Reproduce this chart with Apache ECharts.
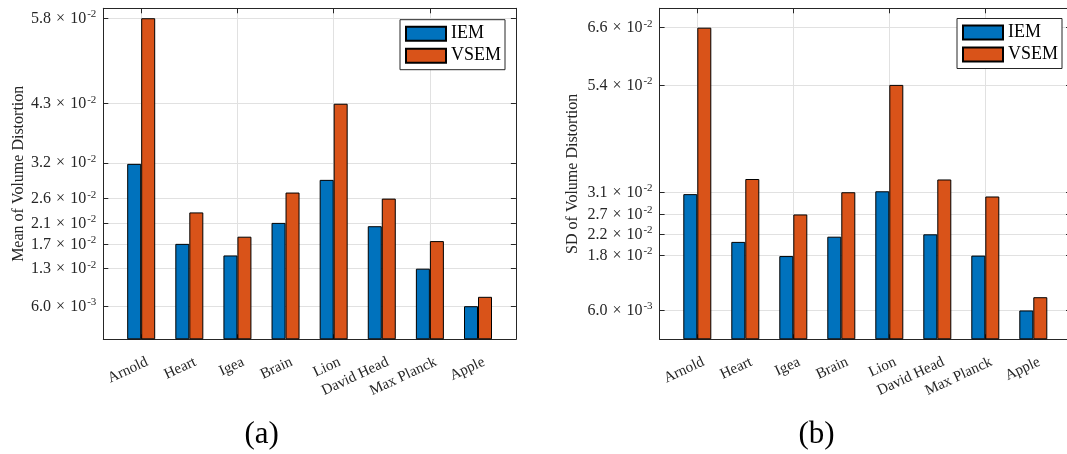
<!DOCTYPE html>
<html><head><meta charset="utf-8">
<script src="https://cdn.jsdelivr.net/npm/echarts@6/dist/echarts.min.js"></script>
<style>html,body{margin:0;padding:0;background:#fff}#c{width:1067px;height:454px}</style>
</head><body><div id="c"></div>
<script>
// ---------- data ----------
const categories = ['Arnold', 'Heart', 'Igea', 'Brain', 'Lion', 'David Head', 'Max Planck', 'Apple'];
const seriesNames = ['IEM', 'VSEM'];

const meanIEM  = [0.0318, 0.0173, 0.0152, 0.0211, 0.0289, 0.0205, 0.0128, 0.0060];
const meanVSEM = [0.0582, 0.0230, 0.0186, 0.0266, 0.0427, 0.0255, 0.0178, 0.0077];

const sdIEM  = [0.0307, 0.0206, 0.0176, 0.0217, 0.0313, 0.0222, 0.0177, 0.0061];
const sdVSEM = [0.0659, 0.0339, 0.0264, 0.0311, 0.0538, 0.0338, 0.0302, 0.0089];

const meanTickValues = [0.0060, 0.0128, 0.0173, 0.0211, 0.0255, 0.0320, 0.0427, 0.0582];
const meanTickMant   = ['6.0', '1.3', '1.7', '2.1', '2.6', '3.2', '4.3', '5.8'];
const meanTickExp    = ['-3', '-2', '-2', '-2', '-2', '-2', '-2', '-2'];

const sdTickValues = [0.0061, 0.0177, 0.0222, 0.0264, 0.0311, 0.0538, 0.0659];
const sdTickMant   = ['6.0', '1.8', '2.2', '2.7', '3.1', '5.4', '6.6'];
const sdTickExp    = ['-3', '-2', '-2', '-2', '-2', '-2', '-2'];

const meanAxisMax = 0.06;
const sdAxisMax = 0.07;
const yTitles = ['Mean of Volume Distortion', 'SD of Volume Distortion'];
const subCaptions = ['(a)', '(b)'];

// ---------- style ----------
const FONT = 'Liberation Serif';
const AXC = '#262626';
const GRIDC = '#e1e1e1';
const COLORS = ['#0072BD', '#D95319'];

function makeFormatter(vals, mant, exp) {
  return function (v) {
    let best = 0, bd = Infinity;
    for (let i = 0; i < vals.length; i++) { const d = Math.abs(vals[i] - v); if (d < bd) { bd = d; best = i; } }
    return '{m|' + mant[best] + '}{x|\u00d7}{m|10}{s|' + exp[best] + '}';
  };
}
const richLabel = {
  m: { fontFamily: FONT, fontSize: 16, color: AXC, verticalAlign: 'bottom', lineHeight: 17 },
  x: { fontFamily: FONT, fontSize: 16, color: AXC, verticalAlign: 'bottom', lineHeight: 17, padding: [0, 5, 0, 5] },
  s: { fontFamily: FONT, fontSize: 11, color: AXC, verticalAlign: 'bottom', lineHeight: 12, padding: [0, 0, 7, 1] }
};

function panel(frameLeft, dataLeft, dataWidth, top, height, maxV, tickVals, mant, exp, title, nameGap, iem, vsem, gi) {
  const frameWidth = (dataLeft - frameLeft) * 2 + dataWidth;
  const grids = [
    { left: frameLeft, top: top, width: frameWidth, height: height, outerBoundsMode: 'none', containLabel: false },
    { left: dataLeft, top: top, width: dataWidth, height: height, outerBoundsMode: 'none', containLabel: false },
    // label grid: same as data grid, nudged right so rotated labels sit like the reference
    { left: dataLeft + 6, top: top, width: dataWidth, height: height, outerBoundsMode: 'none', containLabel: false }
  ];
  const lineOnly = { show: true, onZero: false, lineStyle: { color: AXC, width: 1 } };
  const noLine = { show: false, onZero: false };
  const xAxes = [
    { type: 'value', gridIndex: gi, min: 0, max: 1, position: 'bottom', axisLine: lineOnly, axisTick: { show: false }, axisLabel: { show: false }, splitLine: { show: false } },
    { type: 'value', gridIndex: gi, min: 0, max: 1, position: 'top', axisLine: lineOnly, axisTick: { show: false }, axisLabel: { show: false }, splitLine: { show: false } },
    { type: 'category', gridIndex: gi + 1, data: categories, boundaryGap: false, position: 'bottom',
      axisLine: noLine,
      axisTick: { show: true, inside: true, length: 5, lineStyle: { color: AXC } },
      axisLabel: { show: false },
      splitLine: { show: true, lineStyle: { color: GRIDC, width: 1 } } },
    { type: 'category', gridIndex: gi + 1, data: categories, boundaryGap: false, position: 'top',
      axisLine: noLine,
      axisTick: { show: true, inside: true, length: 5, lineStyle: { color: AXC } },
      axisLabel: { show: false }, splitLine: { show: false } },
    { type: 'category', gridIndex: gi + 2, data: categories, boundaryGap: false, position: 'bottom',
      axisLine: noLine, axisTick: { show: false }, splitLine: { show: false },
      axisLabel: { rotate: 25, fontFamily: FONT, fontSize: 15, color: AXC, margin: 22, interval: 0 } }
  ];
  const yAxes = [
    { type: 'value', gridIndex: gi, min: 0, max: maxV, position: 'left',
      name: title, nameLocation: 'middle', nameRotate: 90, nameGap: nameGap,
      nameTextStyle: { fontFamily: FONT, fontSize: 16, color: AXC },
      axisLine: lineOnly,
      axisTick: { show: true, inside: true, length: 5, customValues: tickVals, lineStyle: { color: AXC } },
      axisLabel: { customValues: tickVals, margin: 7, formatter: makeFormatter(tickVals, mant, exp), rich: richLabel },
      splitLine: { show: true, lineStyle: { color: GRIDC, width: 1 } } },
    { type: 'value', gridIndex: gi, min: 0, max: maxV, position: 'right',
      axisLine: lineOnly,
      axisTick: { show: true, inside: true, length: 5, customValues: tickVals, lineStyle: { color: AXC } },
      axisLabel: { show: false }, splitLine: { show: false } },
    { type: 'value', gridIndex: gi + 1, min: 0, max: maxV, show: false, splitLine: { show: false } },
    { type: 'value', gridIndex: gi + 2, min: 0, max: maxV, show: false, splitLine: { show: false } }
  ];
  return { grids, xAxes, yAxes, iem, vsem };
}

const P1 = panel(103.3, 141.2, 336.8, 8.3, 331, meanAxisMax, meanTickValues, meanTickMant, meanTickExp, yTitles[0], 77, meanIEM, meanVSEM, 0);
const P2 = panel(659.6, 697.3, 336, 8.3, 331, sdAxisMax, sdTickValues, sdTickMant, sdTickExp, yTitles[1], 79, sdIEM, sdVSEM, 3);

function bars(name, data, xi, yi, color) {
  return { type: 'bar', name: name, data: data, xAxisIndex: xi, yAxisIndex: yi, barWidth: 14, barGap: '0%', clip: false,
    itemStyle: { color: color, borderColor: '#000', borderWidth: 1 } };
}

const legendBase = {
  data: seriesNames, orient: 'vertical', icon: 'rect', itemWidth: 40, itemHeight: 14, itemGap: 4,
  padding: [5, 4, 5, 5], backgroundColor: '#fff', borderColor: AXC, borderWidth: 1, borderRadius: 0,
  textStyle: { fontFamily: FONT, fontSize: 18, color: '#000' }, selectedMode: false
};

const option = {
  animation: false,
  backgroundColor: '#fff',
  color: COLORS,
  grid: [...P1.grids, ...P2.grids],
  xAxis: [...P1.xAxes, ...P2.xAxes],
  yAxis: [...P1.yAxes, ...P2.yAxes],
  legend: [
    Object.assign({}, legendBase, { left: 400, top: 19.7 }),
    Object.assign({}, legendBase, { left: 957, top: 18.5 })
  ],
  series: [
    bars(seriesNames[0], P1.iem, 2, 2, COLORS[0]),
    bars(seriesNames[1], P1.vsem, 2, 2, COLORS[1]),
    bars(seriesNames[0], P2.iem, 7, 6, COLORS[0]),
    bars(seriesNames[1], P2.vsem, 7, 6, COLORS[1])
  ],
  graphic: [
    { type: 'text', x: 261.7, y: 435, style: { text: subCaptions[0], font: '31px "Liberation Serif"', fill: '#000', textAlign: 'center', textVerticalAlign: 'middle' } },
    { type: 'text', x: 816.5, y: 435, style: { text: subCaptions[1], font: '31px "Liberation Serif"', fill: '#000', textAlign: 'center', textVerticalAlign: 'middle' } }
  ]
};

const chart = echarts.init(document.getElementById('c'), null, { renderer: 'canvas' });
chart.setOption(option);
</script>
</body></html>
